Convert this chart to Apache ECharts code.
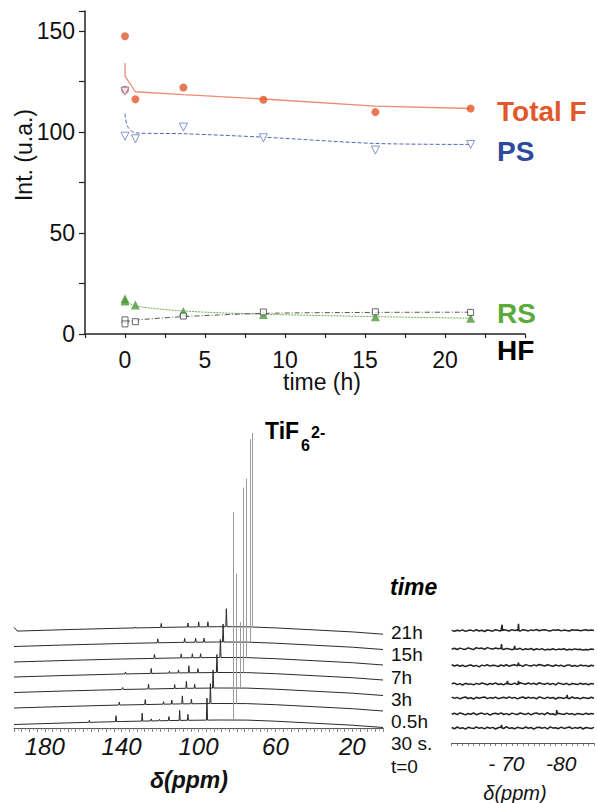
<!DOCTYPE html>
<html><head><meta charset="utf-8">
<script src="https://cdn.jsdelivr.net/npm/echarts@6/dist/echarts.min.js"></script>
<style>html,body{margin:0;padding:0;background:#fff}#c{width:597px;height:803px}</style>
</head><body><div id="c"></div>
<script>
// ---------- TOP PANEL DATA ----------
const timePts = [0, 0, 0.65, 3.65, 8.65, 15.65, 21.6];
const totalF  = [147.5, 121.0, 116.3, 122.1, 116.0, 109.9, 111.7];
const psVals  = [120.3, 98.0, 96.7, 102.5, 97.2, 91.1, 93.9];
const rsVals  = [17.5, 16.3, 14.4, 11.2, 9.6, 8.6, 7.8];
const hfVals  = [7.0, 5.0, 6.1, 8.9, 10.9, 11.0, 10.7];

const fitTimeF = [0, 0, 0.65, 3.65, 8.65, 15.65, 21.6];
const totalFFit = [134.3, 127.7, 120.0, 118.6, 116.4, 112.9, 111.7];
const fitTimePS = [0, 0.15, 0.65, 3.65, 8.65, 15.65, 21.6];
const psFit = [109.2, 103.0, 99.6, 99.2, 97.5, 94.4, 93.9];
const fitTime = [0, 0.65, 3.65, 8.65, 15.65, 21.6];
const rsFit = [16.5, 13.9, 11.4, 9.8, 8.6, 7.8];
const hfFit = [6.1, 6.9, 8.6, 10.2, 10.7, 10.8];

const yTickLabels = [0, 50, 100, 150];
const xTickLabels = [0, 5, 10, 15, 20];

// ---------- SPECTRA DATA (19F NMR, ppm) ----------
const specLabels = ['21h', '15h', '7h', '3h', '0.5h', '30 s.', 't=0'];
const mainAxisLabels = [180, 140, 100, 60, 20];
// baseline shape (ppm, intensity)
const basePpm = [196, 170, 140, 110, 90, 75, 60, 40, 20, 4];
const baseVal = [3.5, 5.0, 6.5, 7.6, 8.0, 7.9, 6.8, 4.8, 2.8, 0.5];
// vertical stacking offset of each trace (bottom -> top)
const traceOffset = [0, 16.5, 32, 47.5, 62.5, 78, 93.3];
const startLift = [0, 0, 0, 0, 0, 0, 4];
// small peaks per trace [ppm, height] (bottom -> top)
const smallPeaks = [
  [[156.8, 2], [142.9, 6], [129.3, 8], [124.6, 2], [120.3, 1.5], [115.4, 4], [109.8, 10], [105.5, 6], [95.6, 22]],
  [[141.2, 3], [127.7, 5], [118.2, 2.5], [113.9, 4], [108.4, 8], [103.7, 4.5], [93.8, 20]],
  [[139.4, 2], [126.0, 5], [112.4, 4], [106.3, 7], [102.0, 4], [92.4, 18]],
  [[138.0, 2], [124.6, 5], [115.1, 2], [110.4, 3], [105.0, 7], [100.3, 4], [90.4, 18]],
  [[122.9, 4], [109.0, 4], [103.2, 4], [98.9, 4], [88.6, 18]],
  [[121.2, 4], [107.2, 4], [101.5, 4], [97.1, 4], [87.2, 18]],
  [[133.0, 1], [119.4, 4], [105.5, 4], [99.9, 5], [95.1, 5], [85.5, 18]]
];
// TiF6(2-) peak per trace: ppm and height
const tifPpm = [82.0, 80.2, 78.5, 76.8, 75.0, 73.3, 71.9];
const tifHeight = [208, 130, 66, 185, 179, 203, 194];

// inset (-60 .. -86 ppm)
const insetAxisLabels = [-70, -80];
const insetPpm = [-60,-60.5,-61,-61.5,-62,-62.5,-63,-63.5,-64,-64.5,-65,-65.5,-66,-66.5,-67,-67.5,-68,-68.5,-69,-69.5,
  -70,-70.5,-71,-71.5,-72,-72.5,-73,-73.5,-74,-74.5,-75,-75.5,-76,-76.5,-77,-77.5,-78,-78.5,-79,-79.5,
  -80,-80.5,-81,-81.5,-82,-82.5,-83,-83.5,-84,-84.5,-85,-85.5,-86];
const insetBase = [15, 29, 45, 59, 77.3, 94, 112.3];
const insetNoise = [
  [0.5,-0.8,1.0,-0.4,0.3,-1.1,0.7,0.0,-0.6,1.2,-0.3,0.4,-0.9,0.8,-0.2,0.6,-1.0,0.3,0.9,-0.5,1.3,-0.4,0.2,-0.8,0.7,0.1,-0.6,1.0,-0.2,0.5,-1.2,0.4,0.8,-0.3,0.6,-0.9,1.1,-0.1,0.3,-0.7,0.9,-0.4,0.2,1.0,-0.6,0.4,-0.2,0.8,-1.0,0.5,0.0,-0.5,0.6],
  [-0.3,0.8,-0.6,1.1,0.2,-0.9,0.5,-0.2,1.0,-0.7,0.3,0.9,-0.4,0.6,-1.1,0.2,0.7,-0.3,1.2,-0.5,0.4,-0.8,0.9,0.1,-0.6,1.0,0.3,-0.4,0.8,-0.9,0.5,1.1,-0.2,0.6,-0.7,1.4,-0.3,0.2,-1.0,0.7,0.1,-0.5,0.9,-0.2,0.4,-0.8,0.6,0.0,-0.6,0.8,-0.3,0.5,-0.1],
  [0.9,-0.4,0.6,-0.8,0.2,1.0,-0.5,0.3,-1.0,0.7,-0.2,0.5,1.1,-0.6,0.4,-0.3,0.9,-0.7,0.1,0.8,-0.4,1.2,-0.2,0.6,-0.9,0.3,1.0,-0.5,0.7,-0.1,0.4,-0.8,1.1,0.2,-0.6,0.9,-0.3,0.5,-1.0,0.6,0.2,-0.4,0.8,-0.7,1.0,-0.2,0.3,-0.9,0.6,0.1,-0.5,0.7,-0.3],
  [0.2,0.9,-0.6,0.4,-1.0,0.7,-0.3,0.1,-0.8,0.6,-0.4,1.0,0.2,-0.7,0.5,-0.2,1.1,-0.5,0.3,-0.9,0.8,0.0,-0.4,0.9,-0.6,1.2,0.4,-0.3,1.0,-0.1,0.7,-0.6,1.3,0.3,-0.2,0.9,-0.5,0.6,-0.8,1.1,0.2,-0.4,0.7,-0.9,0.5,0.1,-0.6,0.8,-0.3,0.4,-0.7,0.6,0.0],
  [1.0,-0.3,0.7,-0.6,0.4,-0.9,0.2,0.8,-0.5,0.3,-1.1,0.6,-0.2,0.9,-0.4,0.5,0.1,-0.8,0.7,-0.3,1.0,-0.6,0.4,0.9,-0.2,0.6,-0.7,1.1,0.3,-0.4,0.8,-0.1,1.2,0.5,-0.3,0.9,0.2,-0.6,0.7,-0.2,0.5,-0.9,0.4,0.8,-0.5,0.2,-0.7,0.6,-0.1,0.3,-0.8,0.5,-0.2],
  [-0.2,0.7,-0.5,0.9,0.1,-0.4,1.1,0.3,-0.6,1.3,0.4,0.9,-0.3,1.4,0.6,-0.1,1.0,0.2,0.8,-0.5,0.6,0.1,-0.7,0.4,-0.2,0.7,-0.9,0.3,-0.4,0.5,-1.0,0.2,-0.6,0.4,-1.1,-0.2,-0.7,0.3,-0.9,-0.1,-0.5,0.2,-1.0,-0.3,-0.8,0.1,-0.6,-0.2,-1.1,-0.4,-0.7,0.0,-0.5],
  [0.3,-0.6,0.5,-0.2,0.8,-0.7,0.2,0.6,-0.4,0.9,-0.3,0.4,-0.8,0.7,0.1,-0.5,1.0,0.3,-0.2,0.9,0.5,-0.3,1.1,0.2,0.7,-0.4,1.0,0.4,-0.2,0.8,0.3,1.2,-0.1,0.6,0.9,0.2,-0.4,0.8,0.5,1.0,-0.2,0.6,0.3,-0.3,0.9,0.4,0.7,-0.1,0.5,1.0,0.2,0.6,0.3]
];
const insetSpikes = [
  [[-69.1, 3]],
  [[-79.2, 4]],
  [[-81.1, 3]],
  [[-70.2, 3], [-72.2, 3]],
  [[-72.2, 3]],
  [[-69.1, 5], [-71.5, 3]],
  [[-69.2, 6], [-72.2, 7]]
];

// ---------- helpers ----------
const zip = (xs, ys) => xs.map((x, i) => [x, ys[i]]);
function baseAt(p) {
  for (let k = 0; k < basePpm.length - 1; k++) {
    if (p <= basePpm[k] && p >= basePpm[k + 1]) {
      const t = (basePpm[k] - p) / (basePpm[k] - basePpm[k + 1]);
      return baseVal[k] + t * (baseVal[k + 1] - baseVal[k]);
    }
  }
  return baseVal[baseVal.length - 1];
}
function buildTrace(i) {
  const off = traceOffset[i];
  const pts = basePpm.map((p, k) => [p, baseVal[k] + off + (k === 0 ? startLift[i] : 0)]);
  if (startLift[i] > 0) pts.push([194.3, baseAt(194.3) + off]);
  smallPeaks[i].forEach(([p, h]) => {
    const b = baseAt(p) + off;
    pts.push([p + 0.3, b], [p, b + h], [p - 0.3, b]);
  });
  pts.push([tifPpm[i], baseAt(tifPpm[i]) + off]);
  pts.sort((a, b) => b[0] - a[0]);
  return pts;
}
function buildInset(i) {
  const pts = insetPpm.map((p, k) => [p, insetBase[i] + insetNoise[i][k]]);
  insetSpikes[i].forEach(([p, h]) => {
    pts.push([p + 0.1, insetBase[i]], [p, insetBase[i] + h], [p - 0.1, insetBase[i]]);
  });
  pts.sort((a, b) => b[0] - a[0]);
  return pts;
}

const FONT = '"Liberation Sans", Arial, Helvetica, sans-serif';

const series = [
  {type: 'line', xAxisIndex: 0, yAxisIndex: 0, data: zip(fitTimeF, totalFFit), symbol: 'none',
   lineStyle: {color: '#EA8C73', width: 1.3}, z: 2},
  {type: 'line', xAxisIndex: 0, yAxisIndex: 0, data: zip(fitTimePS, psFit), symbol: 'none', smooth: 0.3,
   lineStyle: {color: '#5566B2', width: 1, type: [4, 2]}, z: 2},
  {type: 'line', xAxisIndex: 0, yAxisIndex: 0, data: zip(fitTime, rsFit), symbol: 'none', smooth: 0.3,
   lineStyle: {color: '#6DAF52', width: 1, type: [2, 1]}, z: 2},
  {type: 'line', xAxisIndex: 0, yAxisIndex: 0, data: zip(fitTime, hfFit), symbol: 'none', smooth: 0.3,
   lineStyle: {color: '#555', width: 1, type: [5, 2, 1, 2]}, z: 2},
  {type: 'scatter', xAxisIndex: 0, yAxisIndex: 0, data: zip(timePts, totalF), symbol: 'circle', symbolSize: 8,
   itemStyle: {color: '#E2582B'}, z: 5},
  {type: 'scatter', xAxisIndex: 0, yAxisIndex: 0, data: zip(timePts, psVals), symbol: 'triangle', symbolRotate: 180, symbolSize: 8,
   itemStyle: {color: '#fff', borderColor: '#6878C2', borderWidth: 1}, z: 6},
  {type: 'scatter', xAxisIndex: 0, yAxisIndex: 0, data: zip(timePts, rsVals), symbol: 'triangle', symbolSize: 9,
   itemStyle: {color: '#4E9A3A'}, z: 5},
  {type: 'scatter', xAxisIndex: 0, yAxisIndex: 0, data: zip(timePts, hfVals), symbol: 'rect', symbolSize: 6,
   itemStyle: {color: '#fff', borderColor: '#444', borderWidth: 1}, z: 6}
];
for (let i = 0; i < 7; i++) {
  series.push({type: 'line', xAxisIndex: 1, yAxisIndex: 1, data: buildTrace(i), symbol: 'none',
    lineStyle: {color: '#2a2a2a', width: 1}, z: 3});
}
series.push({type: 'lines', coordinateSystem: 'cartesian2d', xAxisIndex: 1, yAxisIndex: 1,
  data: tifPpm.map((p, i) => {
    const b = baseAt(p) + traceOffset[i];
    return {coords: [[p, b], [p, b + tifHeight[i]]]};
  }),
  lineStyle: {color: '#9c9c9c', width: 1, opacity: 1}, z: 4});
for (let i = 0; i < 7; i++) {
  series.push({type: 'line', xAxisIndex: 2, yAxisIndex: 2, data: buildInset(i), symbol: 'none',
    lineStyle: {color: '#222', width: 1.5}, z: 3});
}

const txt = (x, y, text, font, fill, align, valign, extra, lh) => Object.assign({
  type: 'text', x: x, y: y, silent: true,
  style: Object.assign({text: text, font: font, fill: fill || '#000', textAlign: align || 'left', textVerticalAlign: valign || 'middle'}, lh ? {lineHeight: lh} : {})
}, extra || {});

const graphics = [
  txt(24, 155, 'Int. (u.a.)', '23px ' + FONT, '#111', 'center', 'middle', {rotation: Math.PI / 2}),
  txt(322, 382, 'time (h)', '23px ' + FONT, '#111', 'center', 'middle'),
  txt(497, 111, 'Total F', 'bold 28px ' + FONT, '#E2582B'),
  txt(497, 151, 'PS', 'bold 28px ' + FONT, '#2E4A9E'),
  txt(497, 313, 'RS', 'bold 28px ' + FONT, '#5AAA3C'),
  txt(497, 350, 'HF', 'bold 28px ' + FONT, '#000'),
  txt(265, 442, 'TiF', 'bold 23px ' + FONT, '#000', 'left', 'bottom'),
  txt(301, 453, '6', 'bold 16px ' + FONT, '#000', 'left', 'bottom'),
  txt(311, 440, '2-', 'bold 16px ' + FONT, '#000', 'left', 'bottom'),
  txt(390, 587, 'time', 'italic bold 23px ' + FONT, '#000'),
  txt(189, 780, 'δ(ppm)', 'italic bold 23px ' + FONT, '#111', 'center'),
  txt(515, 793, 'δ(ppm)', 'italic 20px ' + FONT, '#111', 'center')
];
const labelYs = [632, 654, 677, 699, 721, 743, 766];
specLabels.forEach((s, i) => graphics.push(txt(391, labelYs[i], s, '19px ' + FONT, '#111', 'left', 'middle')));

const option = {
  animation: false,
  backgroundColor: '#fff',
  grid: [
    {left: 85, right: 72, top: 11, bottom: 469},
    {left: 14, right: 214, top: 428, bottom: 75},
    {left: 451.7, right: 0, top: 620, bottom: 60}
  ],
  xAxis: [
    {gridIndex: 0, type: 'value', min: -2.5, max: 25, interval: 2.5,
     axisLine: {onZero: false, lineStyle: {color: '#222', width: 1.5}},
     axisTick: {length: 4, lineStyle: {color: '#222', width: 1.2}},
     axisLabel: {formatter: v => xTickLabels.indexOf(v) >= 0 ? String(v) : '', fontSize: 23, color: '#111', fontFamily: FONT, margin: 14},
     splitLine: {show: false}},
    {gridIndex: 1, type: 'value', min: 4, max: 196, interval: 4, inverse: true,
     axisLine: {onZero: false, lineStyle: {color: '#555', width: 1}},
     axisTick: {length: 4, lineStyle: {color: '#666', width: 0.8}},
     minorTick: {show: true, splitNumber: 2, length: 2.5, lineStyle: {color: '#777', width: 0.7}},
     axisLabel: {formatter: v => mainAxisLabels.indexOf(v) >= 0 ? String(v) : '', fontSize: 24, fontStyle: 'italic', color: '#111', fontFamily: FONT, margin: 6},
     splitLine: {show: false}},
    {gridIndex: 2, type: 'value', min: -86, max: -60, interval: 1, inverse: true,
     axisLine: {onZero: false, lineStyle: {color: '#555', width: 1}},
     axisTick: {length: 3, lineStyle: {color: '#666', width: 0.8}},
     axisLabel: {formatter: v => v === insetAxisLabels[0] ? '- 70' : (v === insetAxisLabels[1] ? '-80' : ''), fontSize: 21, fontStyle: 'italic', color: '#111', fontFamily: FONT, margin: 10},
     splitLine: {show: false}}
  ],
  yAxis: [
    {gridIndex: 0, type: 'value', min: 0, max: 160, interval: 25,
     axisLine: {show: true, onZero: false, lineStyle: {color: '#222', width: 1.5}},
     axisTick: {show: true, length: 6, lineStyle: {color: '#222', width: 1.2}},
     axisLabel: {formatter: v => yTickLabels.indexOf(v) >= 0 ? String(v) : '', fontSize: 23, color: '#111', fontFamily: FONT, margin: 10},
     splitLine: {show: false}},
    {gridIndex: 1, type: 'value', min: 0, max: 300, show: false},
    {gridIndex: 2, type: 'value', min: 0, max: 123, show: false}
  ],
  series: series,
  graphic: graphics
};

const chart = echarts.init(document.getElementById('c'), null, {renderer: 'svg'});
chart.setOption(option);
</script></body></html>
